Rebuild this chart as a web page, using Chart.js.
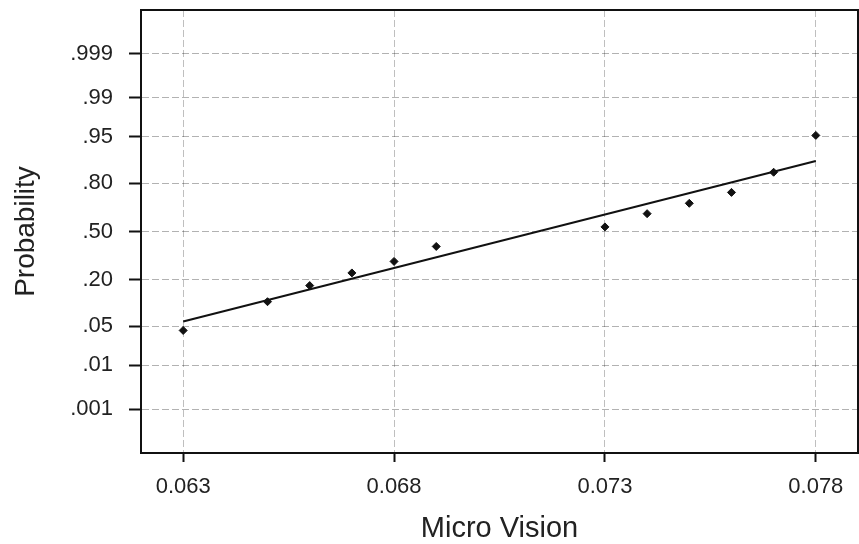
<!DOCTYPE html>
<html>
<head>
<meta charset="utf-8">
<script src="https://cdn.jsdelivr.net/npm/chart.js@4"></script>
<style>
	html, body { margin: 0; padding: 0; background: #fff; }
	#wrap { width: 859px; height: 544px; }
</style>
</head>
<body>
<div id="wrap"><canvas id="myChart" width="859" height="544"></canvas></div>
<script>
// sample points (x = Micro Vision, y = normal score of the plotting position)
const xValues = [0.063, 0.065, 0.066, 0.067, 0.068, 0.069, 0.073, 0.074, 0.075, 0.076, 0.077, 0.078]
const zValues = [-1.72, -1.22, -0.94, -0.72, -0.52, -0.26, 0.08, 0.31, 0.49, 0.68, 1.03, 1.67]

// fitted line end points
const fitX = [0.063, 0.078]
const fitZ = [-1.565, 1.227]

// probability axis: label and its normal-score position
const probLabels = [".001", ".01", ".05", ".20", ".50", ".80", ".95", ".99", ".999"]
const probZ = [-3.09, -2.326, -1.645, -0.842, 0, 0.842, 1.645, 2.326, 3.09]

const xTicks = [0.063, 0.068, 0.073, 0.078]

const FONT = "'Liberation Sans', Arial, sans-serif"

// box round the plot area (top and right sides)
const frame = {
	id: "frame",
	afterDraw(chart) {
		const {ctx, chartArea} = chart
		ctx.save()
		ctx.strokeStyle = "#111"
		ctx.lineWidth = 2
		ctx.strokeRect(chartArea.left, chartArea.top, chartArea.right - chartArea.left, chartArea.bottom - chartArea.top)
		ctx.restore()
	}
}

function noPad(scale) {
	scale.paddingTop = 0
	scale.paddingBottom = 0
	scale.paddingLeft = 0
	scale.paddingRight = 0
}

new Chart("myChart", {
	data: {
		datasets: [
			{
				type: "line",
				data: fitX.map((x, i) => ({x: x, y: fitZ[i]})),
				borderColor: "#111",
				borderWidth: 2,
				pointRadius: 0,
				fill: false
			},
			{
				type: "scatter",
				data: xValues.map((x, i) => ({x: x, y: zValues[i]})),
				pointStyle: "rectRot",
				pointRadius: 4,
				backgroundColor: "#111",
				borderColor: "#111"
			}
		]
	},
	options: {
		responsive: false,
		animation: false,
		layout: { autoPadding: false, padding: { top: 10, right: 1, left: 0, bottom: 0 } },
		plugins: {
			legend: { display: false },
			tooltip: { enabled: false }
		},
		scales: {
			x: {
				type: "linear",
				min: 0.062,
				max: 0.079,
				afterFit: (scale) => { scale.height = 91; noPad(scale) },
				afterBuildTicks: (scale) => { scale.ticks = xTicks.map(v => ({value: v})) },
				grid: {
					color: "rgba(0,0,0,0.25)",
					tickColor: "#111",
					tickWidth: 2,
					tickLength: 9
				},
				border: { color: "#111", width: 2, dash: [7, 3] },
				ticks: {
					color: "#222",
					padding: 12,
					maxRotation: 0,
					font: { family: FONT, size: 22 },
					callback: (value) => value.toFixed(3)
				},
				title: {
					display: true,
					text: "Micro Vision",
					color: "#222",
					padding: { top: 0, bottom: -2 },
					font: { family: FONT, size: 29 }
				}
			},
			y: {
				type: "linear",
				min: -3.85,
				max: 3.85,
				afterFit: (scale) => { scale.width = 141; noPad(scale) },
				afterBuildTicks: (scale) => { scale.ticks = probZ.map(v => ({value: v})) },
				grid: {
					color: "rgba(0,0,0,0.3)",
					tickColor: "#111",
					tickWidth: 2,
					tickLength: 12
				},
				border: { color: "#111", width: 2, dash: [7, 3] },
				ticks: {
					color: "#222",
					padding: 16,
					font: { family: FONT, size: 22 },
					callback: (value, index) => probLabels[index]
				},
				title: {
					display: true,
					text: "Probability",
					color: "#222",
					padding: { top: 9, bottom: 0 },
					font: { family: FONT, size: 28 }
				}
			}
		}
	},
	plugins: [frame]
})
</script>
</body>
</html>
